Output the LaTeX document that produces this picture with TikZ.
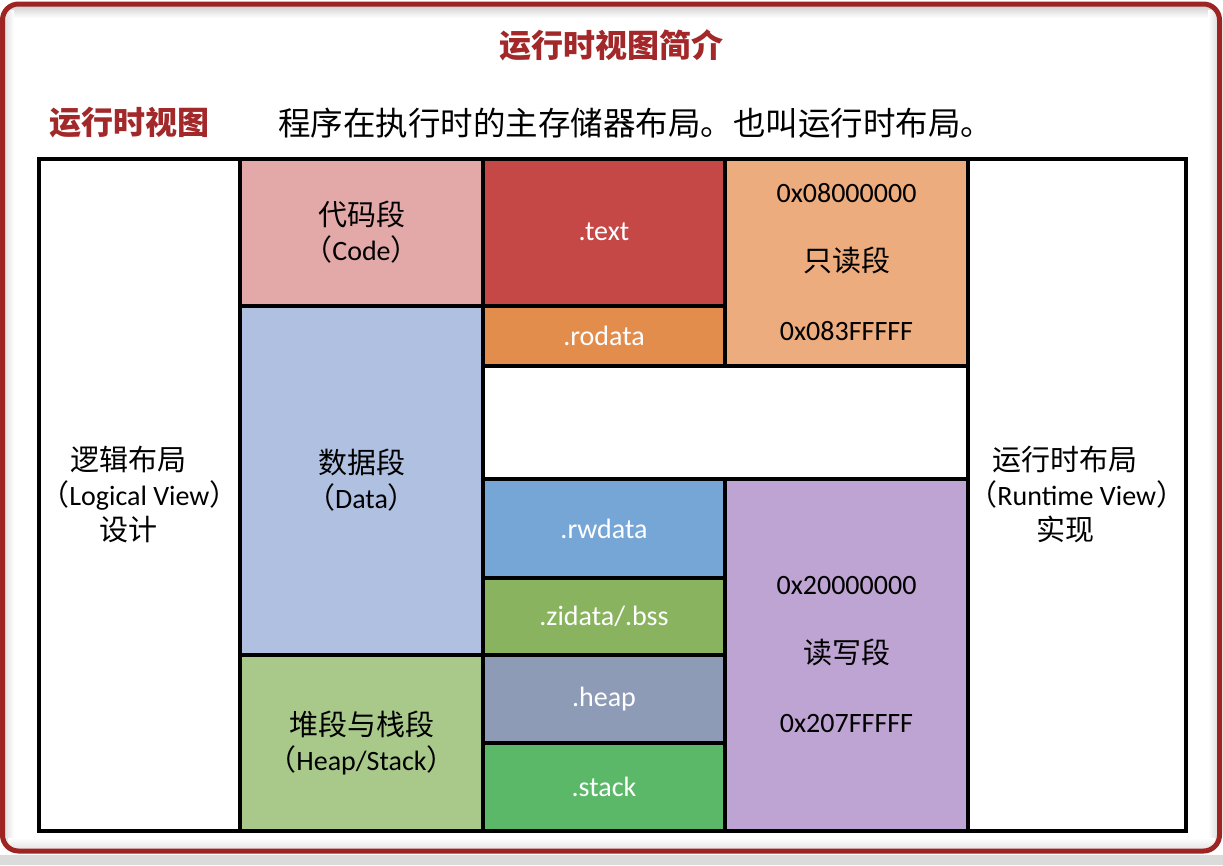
\documentclass[tikz,border=0pt]{standalone}
\usepackage{fontspec}
\setmainfont{Carlito}
\newfontfamily\cjk{Noto Sans CJK SC}
\definecolor{frameRed}{HTML}{9E2424}
\definecolor{titleRed}{HTML}{A3282A}
\definecolor{cCode}{HTML}{E3A9A8}
\definecolor{cData}{HTML}{AFC0E1}
\definecolor{cHS}{HTML}{A9C98A}
\definecolor{cText}{HTML}{C64846}
\definecolor{cRodata}{HTML}{E38D4D}
\definecolor{cRO}{HTML}{ECAC7E}
\definecolor{cRwdata}{HTML}{76A6D6}
\definecolor{cZi}{HTML}{89B35F}
\definecolor{cHeap}{HTML}{8E9BB7}
\definecolor{cStack}{HTML}{5BB869}
\definecolor{cRW}{HTML}{BEA4D2}
\newcommand\mkcell[7]{\node[cell, fill=#6, minimum width={(#3-#1)*1pt}, minimum height={(#4-#2)*1pt}] (#5) at ({(#1+#3)/2},{(#2+#4)/2}) {#7};}
\newcommand\cj[1]{{\cjk\fontsize{29}{35}\selectfont #1}}
\newcommand\shiftleftbox[1]{\hbox{#1\kern23pt}}
\begin{document}
\begin{tikzpicture}[x=1pt,y=-1pt,
  cell/.style={inner sep=0pt, outer sep=0pt, align=center, font=\fontsize{28}{35}\selectfont},
  edgeline/.style={line width=4pt, draw=black},
  headtxt/.style={inner sep=0pt, font=\cjk\fontsize{32.5}{36}\selectfont},
  headbold/.style={inner sep=0pt, text=titleRed, font=\cjk\bfseries\fontsize{32}{36}\selectfont}]
\useasboundingbox (0,0) rectangle (1223,865);
\fill[white] (0,0) rectangle (1223,865);
\fill[black!14] (0,855) rectangle (1223,865);
\shade[top color=black!18, bottom color=white] (8,6) rectangle (1215,18);
\shade[left color=black!12, right color=white] (5,10) rectangle (14,845);
\shade[right color=black!12, left color=white] (1208,10) rectangle (1217,845);
\shade[bottom color=black!10, top color=white] (8,838) rectangle (1215,848);
\draw[line width=5pt, draw=frameRed, rounded corners=16pt] (2.5,4) rectangle (1219.5,851);
% headings
\node[headbold] (title) at (611,45) {运行时视图简介};
\node[headbold, anchor=west] (rtv) at (49,123) {运行时视图};
\node[headtxt, anchor=west] (desc) at (278,123) {程序在执行时的主存储器布局。也叫运行时布局。};
% cells
\mkcell{39}{158.5}{240}{830.5}{L}{white}{\shiftleftbox{\cj{逻辑布局}}\\\cj{（}Logical View\cj{）}\\\shiftleftbox{\cj{设计}}}
\mkcell{240}{158.5}{483}{306}{code}{cCode}{\cj{代码段}\\\cj{（}Code\cj{）}}
\mkcell{240}{306}{483}{655}{data}{cData}{\cj{数据段}\\\cj{（}Data\cj{）}}
\mkcell{240}{655}{483}{830.5}{hs}{cHS}{\cj{堆段与栈段}\\\cj{（}Heap/Stack\cj{）}}
\mkcell{483}{158.5}{725}{306}{text}{cText}{\textcolor{white}{.text}}
\mkcell{483}{306}{725}{366}{rodata}{cRodata}{\textcolor{white}{.rodata}}
\mkcell{725}{158.5}{968}{366}{ro}{cRO}{0x08000000\\[34pt]\cj{只读段}\\[34pt]0x083FFFFF}
\mkcell{483}{366}{968}{479}{blank}{white}{}
\mkcell{483}{479}{725}{578}{rwdata}{cRwdata}{\textcolor{white}{.rwdata}}
\mkcell{483}{578}{725}{655}{zi}{cZi}{\textcolor{white}{.zidata/.bss}}
\mkcell{483}{655}{725}{743}{heap}{cHeap}{\textcolor{white}{.heap}}
\mkcell{483}{743}{725}{830.5}{stack}{cStack}{\textcolor{white}{.stack}}
\mkcell{725}{479}{968}{830.5}{rw}{cRW}{0x20000000\\[34pt]\cj{读写段}\\[34pt]0x207FFFFF}
\mkcell{968}{158.5}{1185.5}{830.5}{R}{white}{\shiftleftbox{\cj{运行时布局}}\\\cj{（}Runtime View\cj{）}\\\shiftleftbox{\cj{实现}}}
\foreach \n in {L,code,data,hs,text,rodata,ro,blank,rwdata,zi,heap,stack,rw,R}
  \draw[edgeline] (\n.north west) rectangle (\n.south east);
\end{tikzpicture}
\end{document}
